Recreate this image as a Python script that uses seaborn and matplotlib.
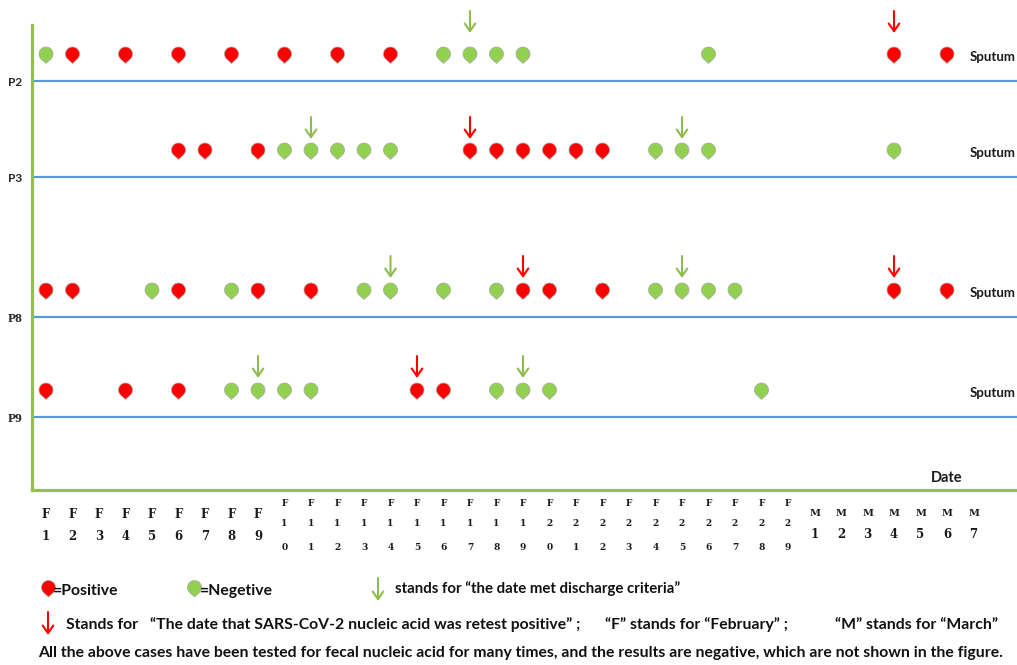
import matplotlib
matplotlib.use("Agg")
import matplotlib.pyplot as plt
from matplotlib.path import Path
import numpy as np
import pandas as pd
import seaborn as sns

# day index 1..29 = February 1..29, 30..36 = March 1..7
DATE_LABELS = ["F1", "F2", "F3", "F4", "F5", "F6", "F7", "F8", "F9", "F10",
               "F11", "F12", "F13", "F14", "F15", "F16", "F17", "F18", "F19", "F20",
               "F21", "F22", "F23", "F24", "F25", "F26", "F27", "F28", "F29",
               "M1", "M2", "M3", "M4", "M5", "M6", "M7"]

PATIENTS = ["P2", "P3", "P8", "P9"]
SAMPLES = ["Sputum", "Sputum", "Sputum", "Sputum"]

P2_POSITIVE = [2, 4, 6, 8, 10, 12, 14, 33, 35]
P2_NEGATIVE = [1, 16, 17, 18, 19, 26]
P3_POSITIVE = [6, 7, 9, 17, 18, 19, 20, 21, 22]
P3_NEGATIVE = [10, 11, 12, 13, 14, 24, 25, 26, 33]
P8_POSITIVE = [1, 2, 6, 9, 11, 19, 20, 22, 33, 35]
P8_NEGATIVE = [5, 8, 13, 14, 16, 18, 24, 25, 26, 27]
P9_POSITIVE = [1, 4, 6, 15, 16]
P9_NEGATIVE = [8, 9, 10, 11, 18, 19, 20, 28]

# arrows: date met discharge criteria / retest positive
P2_DISCHARGE, P2_RETEST = [17], [33]
P3_DISCHARGE, P3_RETEST = [11, 25], [17]
P8_DISCHARGE, P8_RETEST = [14, 25], [19, 33]
P9_DISCHARGE, P9_RETEST = [9, 19], [15]

# colours
RED = "#ff0000"
GREEN = "#92d050"
ARROW_GREEN = "#8fbc4f"
AXIS_GREEN = "#92c04c"
BLUE = "#5b9bd5"

# layout (pixels of the 1017x665 canvas, y measured from top)
W, H = 1017, 665
AX_L, AX_R, AX_T, AX_B = 32, 1017, 25, 490
X0, DX = 46, 26.5                     # pixel of day 1, pixels per day
ROW_LINE_PX = [81, 177, 317, 417]
ROW_ARROW_GAP = [21, 11, 12, 12]
MARK_ABOVE = 27
ARROW_LEN = 22
PIN_SIZE = 185

positives = [P2_POSITIVE, P3_POSITIVE, P8_POSITIVE, P9_POSITIVE]
negatives = [P2_NEGATIVE, P3_NEGATIVE, P8_NEGATIVE, P9_NEGATIVE]
discharges = [P2_DISCHARGE, P3_DISCHARGE, P8_DISCHARGE, P9_DISCHARGE]
retests = [P2_RETEST, P3_RETEST, P8_RETEST, P9_RETEST]


def pin_path(tip=1.35):
    a = np.degrees(np.arccos(1 / tip))
    t = np.radians(np.linspace(-90 + a, 270 - a, 80))
    verts = np.column_stack([np.cos(t), np.sin(t)])
    verts = np.vstack([verts, [0, -tip], verts[:1]])
    codes = [Path.MOVETO] + [Path.LINETO] * (len(verts) - 2) + [Path.CLOSEPOLY]
    return Path(verts, codes)


PIN = pin_path()

rows = []
for i, p in enumerate(PATIENTS):
    for d in positives[i]:
        rows.append({"patient": p, "day": d, "result": "Positive"})
    for d in negatives[i]:
        rows.append({"patient": p, "day": d, "result": "Negative"})
df = pd.DataFrame(rows)

baseline = {p: AX_B - ROW_LINE_PX[i] for i, p in enumerate(PATIENTS)}
df["y"] = df["patient"].map(baseline) + MARK_ABOVE

sns.set_style("white")
plt.rcParams["font.family"] = ["Lato", "DejaVu Sans"]

fig = plt.figure(figsize=(W / 100, H / 100), dpi=100)

# overlay in pixel coordinates for the key below the chart
bg = fig.add_axes([0, 0, 1, 1])
bg.set_xlim(0, W)
bg.set_ylim(H, 0)
bg.axis("off")

ax = fig.add_axes([AX_L / W, (H - AX_B) / H, (AX_R - AX_L) / W, (AX_B - AX_T) / H])
ax.set_facecolor("none")
ax.set_xlim(1 - (X0 - AX_L) / DX, 1 + (AX_R - X0) / DX)
ax.set_ylim(0, AX_B - AX_T)

for i, p in enumerate(PATIENTS):
    ax.axhline(baseline[p], color=BLUE, lw=1.6, zorder=1)

sns.scatterplot(data=df, x="day", y="y", hue="result",
                palette={"Positive": RED, "Negative": GREEN},
                marker=PIN, s=PIN_SIZE, edgecolor="#a8a8a8", linewidth=0.5,
                legend=False, ax=ax, zorder=3)


def arrow(a, x, y_tip, color, length=ARROW_LEN):
    a.annotate("", xy=(x, y_tip), xytext=(x, y_tip + length),
               arrowprops=dict(arrowstyle="->,head_length=0.55,head_width=0.38",
                               color=color, lw=1.5, shrinkA=0, shrinkB=0),
               annotation_clip=False)


for i, p in enumerate(PATIENTS):
    ymark = baseline[p] + MARK_ABOVE
    for d in discharges[i]:
        arrow(ax, d, ymark + ROW_ARROW_GAP[i], ARROW_GREEN)
    for d in retests[i]:
        arrow(ax, d, ymark + ROW_ARROW_GAP[i], RED)
    bg.text(970, ROW_LINE_PX[i] - MARK_ABOVE + 3, SAMPLES[i], fontsize=9.5,
            fontweight="bold", va="center", ha="left", color="#1a1a1a")

# axes styling
for s in ["top", "right"]:
    ax.spines[s].set_visible(False)
for s in ["left", "bottom"]:
    ax.spines[s].set_color(AXIS_GREEN)
    ax.spines[s].set_linewidth(2.3)
ax.set_xticks([])
ax.set_yticks([baseline[p] for p in PATIENTS])
ax.set_yticklabels(PATIENTS)
ax.tick_params(axis="y", length=0, pad=7)
for lab, p in zip(ax.get_yticklabels(), PATIENTS):
    lab.set_fontweight("bold")
    lab.set_fontsize(8.5)
    if p in ("P8", "P9"):
        lab.set_family("Liberation Serif")
        lab.set_fontsize(9.5)
ax.set_xlabel("")
ax.set_ylabel("")

bg.text(947, 478, "Date", fontsize=10.5, fontweight="bold", ha="center",
        va="center", color="#1a1a1a")

# date labels under the axis
tick_font = dict(family="DejaVu Serif", fontweight="bold", ha="center",
                 va="center", color="#1a1a1a", clip_on=False)
for d, lab in enumerate(DATE_LABELS, start=1):
    letter, num = lab[0], lab[1:]
    if letter == "M":
        ax.text(d, AX_B - 513, letter, fontsize=7, **tick_font)
        ax.text(d, AX_B - 535, num, fontsize=8.5, **tick_font)
    elif len(num) == 1:
        ax.text(d, AX_B - 514, letter, fontsize=8.5, **tick_font)
        ax.text(d, AX_B - 536, num, fontsize=8.5, **tick_font)
    else:
        ax.text(d, AX_B - 503, letter, fontsize=6.5, **tick_font)
        ax.text(d, AX_B - 524, num[0], fontsize=6.5, **tick_font)
        ax.text(d, AX_B - 547, num[1], fontsize=6.5, **tick_font)

# key
key_txt = dict(fontsize=11.3, fontweight="bold", va="center", ha="left", color="#111111")
bg.scatter([48], [587], marker=PIN, s=PIN_SIZE, color=RED, edgecolor="#a8a8a8", lw=0.5)
bg.text(53, 591, "=Positive", **key_txt)
bg.scatter([194], [587], marker=PIN, s=PIN_SIZE, color=GREEN, edgecolor="#a8a8a8", lw=0.5)
bg.text(200, 591, "=Negetive", **key_txt)


def key_arrow(x, y0, y1, color):
    bg.annotate("", xy=(x, y1), xytext=(x, y0),
                arrowprops=dict(arrowstyle="->,head_length=0.55,head_width=0.38",
                                color=color, lw=1.5, shrinkA=0, shrinkB=0))


key_arrow(378, 578, 601, ARROW_GREEN)
bg.text(395, 589, "stands for \u201cthe date met discharge criteria\u201d",
        **{**key_txt, "fontsize": 10.8})
key_arrow(48, 612, 635, RED)
bg.text(66, 625, "Stands for", **key_txt)
bg.text(150, 625, "\u201cThe date that SARS-CoV-2 nucleic acid was retest positive\u201d ;", **key_txt)
bg.text(605, 625, "\u201cF\u201d stands for \u201cFebruary\u201d ;", **key_txt)
bg.text(835, 625, "\u201cM\u201d stands for \u201cMarch\u201d", **key_txt)
bg.text(38, 653, "All the above cases have been tested for fecal nucleic acid for many times, "
        "and the results are negative, which are not shown in the figure.", **key_txt)

fig.savefig("out.png", dpi=100)
